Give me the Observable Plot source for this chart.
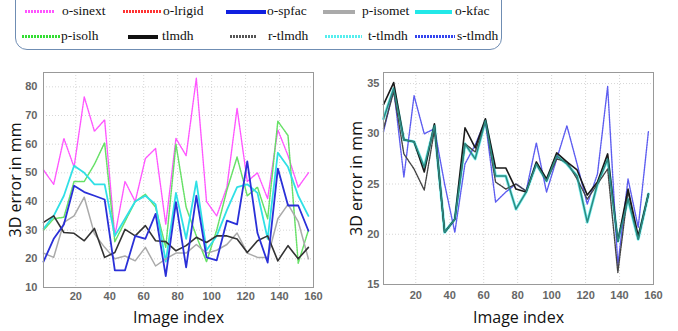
<!DOCTYPE html>
<html><head><meta charset="utf-8">
<script src="https://cdn.jsdelivr.net/npm/d3@7"></script>
<script src="https://cdn.jsdelivr.net/npm/@observablehq/plot@0.6"></script>
<style>
body{margin:0;background:#fff;}
#wrap{position:relative;width:678px;height:331px;overflow:hidden;background:#fff;}
#legendBox{position:absolute;left:15px;top:-14px;width:487px;height:64px;border:1px solid #6f8db3;border-radius:12px;box-sizing:border-box;}
.item{position:absolute;height:16px;font-family:"Liberation Serif",serif;font-size:13.5px;color:#111;line-height:16px;white-space:nowrap;}
.sw{position:absolute;top:6px;height:3px;}
#left{position:absolute;left:0;top:55px;}
#right{position:absolute;left:340px;top:55px;}
svg [aria-label$="axis label"] text{font-size:16px;font-family:"Open Sans",sans-serif;fill:#111;}
svg [aria-label$="tick label"] text{font-weight:bold;}
</style></head>
<body><div id="wrap"><div id="legendBox"></div></div>
<script>
// ---------- data ----------
const imageIndex = [1,7,13,19,25,31,37,43,49,55,61,67,73,79,85,91,97,103,109,115,121,127,133,139,145,151,157];
const xTicks = [20,40,60,80,100,120,140,160];
const yTicksLeft = [10,20,30,40,50,60,70,80];
const yTicksRight = [15,20,25,30,35];

// left panel
const oSinext = [51,46,62,52,76.5,64.5,68.5,28,47,40,55,58.5,32,62,56,83,40,35,45,72.5,47,50,41,65,56,45,50];
const pIsolh  = [30,34,34.5,47,47,53,60.5,26,33,40,42.5,38,24,60,38,28,19,30,44,55.5,42,45,34,68,63,18.5,30];
const oKfac   = [30.5,35,42,52.5,50,46,46,28,34,40,42,39,19,43,27,47,23,28,37,45,46,43,27,57,52,42,35];
const pIsomet = [22,20.5,32.7,35,41.5,28.7,24,20,21,19.3,24,17.5,20,22,22,25,22,23,25,29,22,20.5,20.5,34,39,33,20];
const tlmdhL  = [32.7,35,29.2,28.9,26.3,30.6,20.5,22.2,30.3,28,31.6,26.3,26,22.8,24.6,27.5,25.7,28,28,26.9,22.2,26.3,28,19.3,24.6,20,24];
const oSpfac  = [19,27,32,45.5,43.3,42,40.7,16,16,28,27,35.7,14,39.8,17,42,20.5,19.5,33.3,32,54,29,18.7,51.5,38.6,38.6,29.8];

// right panel
const tlmdhR  = [32.9,35.1,29.4,29.2,26.2,31,20.2,21.5,30.6,28.6,31.5,26.6,26.6,24.5,24.2,27.2,25.5,28.1,27.2,26.4,23.9,25.2,28,19.3,24.5,19.8,24];
const tTlmdh  = [31.5,34.5,29.4,29.2,26.7,30.8,20.2,21.5,29,27.5,31.3,25.8,25.8,22.5,24.2,27,25.3,27.8,27,25.8,21.2,25,27.5,19.3,23.5,19.5,24];
const rTlmdh  = [30.5,34.2,28,26.5,24.4,30.4,20.2,21.5,29,28.2,31.3,25.2,24.5,25,24.3,27,25.3,27.5,27.2,25.5,23.5,25,26.5,16.2,24.3,19.5,24];
const sTlmdh  = [30.2,34.5,25.7,33.8,30,30.5,25,20.2,27,28.9,31.3,23.2,24.2,25,24.3,29.1,24.2,27.5,30.8,27,23,26,34.7,16.9,25.5,20.7,30.2];

// legend
const legendNames  = ["o-sinext","o-lrigid","o-spfac","p-isomet","o-kfac","p-isolh","tlmdh","r-tlmdh","t-tlmdh","s-tlmdh"];
const legendColors = ["#ff55ff","#ff3333","#1020e0","#aaaaaa","#22e8e8","#33dd33","#111111","#555555","#55eeee","#3344ee"];
const legendDotted = [true,true,false,false,false,true,false,true,true,true];

// ---------- legend layout ----------
const swLeft  = [25,123,226,323,415,22,128,230,325,415];
const swWidth = [30,39,40,32,37,38,30,27,37,40];
const labLeft = [62,163,267,362,455,61,162,268,368,457];
const rowTop  = [3,28];
const wrap = document.getElementById("wrap");
legendNames.forEach((name,i)=>{
  const row = i<5?0:1;
  const sw = document.createElement("div");
  sw.className="sw";
  sw.style.left = swLeft[i]+"px";
  sw.style.top = (rowTop[row]+7)+"px";
  sw.style.width = swWidth[i]+"px";
  sw.style.height = (legendDotted[i]?3:3.5)+"px";
  sw.style.background = legendDotted[i]
    ? `repeating-linear-gradient(90deg, ${legendColors[i]} 0 2px, rgba(255,255,255,0.35) 2px 3px)`
    : legendColors[i];
  wrap.appendChild(sw);
  const lab = document.createElement("div");
  lab.className="item";
  lab.style.left = labLeft[i]+"px";
  lab.style.top = rowTop[row]+"px";
  lab.textContent = name;
  wrap.appendChild(lab);
});

// ---------- charts ----------
const toRows = ys => imageIndex.map((x,i)=>({x, y: ys[i]}));
const common = {
  width: 330, height: 276, marginLeft: 43, marginRight: 17, marginTop: 17,
  style: {fontFamily: "Liberation Sans, Arial, sans-serif", fontSize: "11px", color: "#666", background: "transparent"}
};
const grid = (ticksY) => [
  Plot.gridX(xTicks, {stroke: "#bbb", strokeOpacity: 0.6, strokeDasharray: "1,2"}),
  Plot.gridY(ticksY, {stroke: "#bbb", strokeOpacity: 0.6, strokeDasharray: "1,2"})
];

const left = Plot.plot({
  ...common, marginBottom: 44,
  x: {domain: [1,160], ticks: xTicks, tickSize: 0, tickPadding: 5, label: "Image index", labelAnchor: "center", labelOffset: 35, labelArrow: "none"},
  y: {domain: [10,85], ticks: yTicksLeft, tickSize: 0, tickPadding: 6, label: "3D error in mm", labelAnchor: "center", labelOffset: 34, labelArrow: "none"},
  marks: [
    ...grid(yTicksLeft),
    Plot.line(toRows(oSinext), {x:"x", y:"y", stroke: legendColors[0], strokeWidth: 1.4, strokeDasharray: "1.5,1"}),
    Plot.line(toRows(pIsolh),  {x:"x", y:"y", stroke: "#66e066", strokeWidth: 1.5, strokeDasharray: "1.5,1"}),
    Plot.line(toRows(oKfac),   {x:"x", y:"y", stroke: "#30e0e6", strokeWidth: 1.8}),
    Plot.line(toRows(pIsomet), {x:"x", y:"y", stroke: "#aaaaaa", strokeWidth: 1.5}),
    Plot.line(toRows(tlmdhL),  {x:"x", y:"y", stroke: "#333333", strokeWidth: 1.6}),
    Plot.line(toRows(oSpfac),  {x:"x", y:"y", stroke: "#2a30d8", strokeWidth: 1.8}),
    Plot.frame({stroke: "#999"})
  ]
});

const right = Plot.plot({
  ...common, marginBottom: 47,
  x: {domain: [1,160], ticks: xTicks, tickSize: 0, tickPadding: 7, label: "Image index", labelAnchor: "center", labelOffset: 38, labelArrow: "none"},
  y: {domain: [15,36.1], ticks: yTicksRight, tickSize: 0, tickPadding: 4, label: "3D error in mm", labelAnchor: "center", labelOffset: 33, labelArrow: "none"},
  marks: [
    ...grid(yTicksRight),
    Plot.line(toRows(tTlmdh), {x:"x", y:"y", stroke: "#7ff0f0", strokeWidth: 3}),
    Plot.line(toRows(sTlmdh), {x:"x", y:"y", stroke: "#5c5cf0", strokeWidth: 1.4, strokeDasharray: "1.5,1"}),
    Plot.line(toRows(rTlmdh), {x:"x", y:"y", stroke: "#444", strokeWidth: 1.4, strokeDasharray: "1.5,1"}),
    Plot.line(toRows(tlmdhR), {x:"x", y:"y", stroke: "#1a1a1a", strokeWidth: 1.6}),
    Plot.line(toRows(tTlmdh), {x:"x", y:"y", stroke: "#2a8a80", strokeWidth: 1.5}),
    Plot.frame({stroke: "#999"})
  ]
});

left.id = "left"; right.id = "right";
wrap.appendChild(left); wrap.appendChild(right);
</script></body></html>
